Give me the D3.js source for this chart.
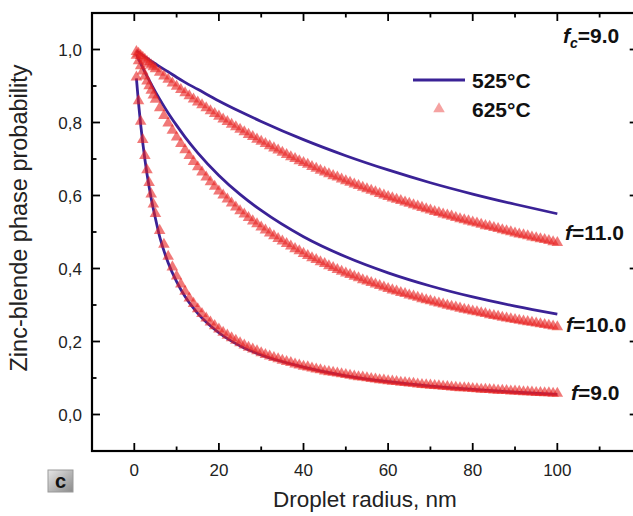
<!DOCTYPE html>
<html>
<head>
<meta charset="utf-8">
<script src="https://cdn.jsdelivr.net/npm/d3@7"></script>
<style>
  body { margin: 0; background: #fff; }
  svg { display: block; font-family: "Liberation Sans", Arial, sans-serif; }
  .tick-label { font-size: 17px; fill: #222; }
  .title { font-size: 22.5px; fill: #222; }
  .bold { font-weight: bold; fill: #111; }
</style>
</head>
<body>
<div class="container"></div>
<script>
// radius (nm) for the 525 °C curves
const radiusLine = [0.5, 1, 1.5, 2, 3, 4, 5, 6, 8, 10, 12, 15, 20, 25, 30, 40, 50, 60, 70, 80, 90, 100]
const p525_f9  = [0.921, 0.853, 0.795, 0.744, 0.659, 0.592, 0.537, 0.487, 0.416, 0.364, 0.323, 0.277, 0.224, 0.188, 0.163, 0.130, 0.106, 0.090, 0.078, 0.069, 0.061, 0.055]
const p525_f10 = [0.987, 0.974, 0.962, 0.950, 0.927, 0.905, 0.884, 0.864, 0.826, 0.792, 0.760, 0.717, 0.655, 0.603, 0.559, 0.487, 0.432, 0.388, 0.352, 0.322, 0.297, 0.275]
const p525_f11 = [0.996, 0.992, 0.988, 0.984, 0.976, 0.968, 0.961, 0.953, 0.939, 0.924, 0.910, 0.891, 0.859, 0.830, 0.803, 0.753, 0.709, 0.670, 0.635, 0.604, 0.576, 0.550]

// radius (nm) for the 625 °C markers
const radiusTri = [0.5, 1, 1.5, 2, 2.5, 3, 3.5, 4, 4.5, 5,
  6, 7, 8, 9, 10, 11, 12, 13, 14, 15, 16, 17, 18, 19, 20,
  21, 22, 23, 24, 25, 26, 27, 28, 29, 30, 31, 32, 33, 34, 35,
  36, 37, 38, 39, 40, 41, 42, 43, 44, 45, 46, 47, 48, 49, 50,
  51, 52, 53, 54, 55, 56, 57, 58, 59, 60, 61, 62, 63, 64, 65,
  66, 67, 68, 69, 70, 71, 72, 73, 74, 75, 76, 77, 78, 79, 80,
  81, 82, 83, 84, 85, 86, 87, 88, 89, 90, 91, 92, 93, 94, 95,
  96, 97, 98, 99, 100]
const p625_f9 = [0.924, 0.859, 0.803, 0.753, 0.709, 0.670, 0.635, 0.604, 0.576, 0.550,
  0.504, 0.466, 0.433, 0.404, 0.379, 0.357, 0.337, 0.319, 0.304, 0.289, 0.276, 0.264, 0.253, 0.243, 0.234,
  0.225, 0.217, 0.210, 0.203, 0.196, 0.190, 0.184, 0.179, 0.174, 0.169, 0.164, 0.160, 0.156, 0.152, 0.148,
  0.145, 0.142, 0.138, 0.135, 0.132, 0.130, 0.127, 0.124, 0.122, 0.119, 0.117, 0.115, 0.113, 0.111, 0.109,
  0.107, 0.105, 0.103, 0.102, 0.100, 0.098, 0.097, 0.095, 0.094, 0.092, 0.091, 0.090, 0.088, 0.087, 0.086,
  0.085, 0.083, 0.082, 0.081, 0.080, 0.079, 0.078, 0.077, 0.076, 0.075, 0.074, 0.073, 0.073, 0.072, 0.071,
  0.070, 0.069, 0.069, 0.068, 0.067, 0.066, 0.066, 0.065, 0.064, 0.064, 0.063, 0.062, 0.062, 0.061, 0.060,
  0.060, 0.059, 0.059, 0.058, 0.058]
const p625_f10 = [0.984, 0.969, 0.955, 0.941, 0.927, 0.913, 0.900, 0.888, 0.875, 0.863,
  0.840, 0.819, 0.798, 0.778, 0.760, 0.742, 0.725, 0.709, 0.693, 0.678, 0.664, 0.650, 0.637, 0.625, 0.612,
  0.601, 0.590, 0.579, 0.568, 0.558, 0.549, 0.539, 0.530, 0.522, 0.513, 0.505, 0.497, 0.489, 0.482, 0.475,
  0.468, 0.461, 0.454, 0.448, 0.441, 0.435, 0.429, 0.424, 0.418, 0.413, 0.407, 0.402, 0.397, 0.392, 0.387,
  0.383, 0.378, 0.374, 0.369, 0.365, 0.361, 0.357, 0.353, 0.349, 0.345, 0.341, 0.338, 0.334, 0.331, 0.327,
  0.324, 0.321, 0.317, 0.314, 0.311, 0.308, 0.305, 0.302, 0.299, 0.296, 0.294, 0.291, 0.288, 0.286, 0.283,
  0.281, 0.278, 0.276, 0.273, 0.271, 0.269, 0.266, 0.264, 0.262, 0.260, 0.258, 0.256, 0.254, 0.252, 0.250,
  0.248, 0.246, 0.244, 0.242, 0.240]
const p625_f11 = [0.994, 0.989, 0.983, 0.978, 0.973, 0.967, 0.962, 0.957, 0.952, 0.947,
  0.937, 0.927, 0.918, 0.908, 0.899, 0.890, 0.881, 0.873, 0.864, 0.856, 0.848, 0.840, 0.832, 0.824, 0.817,
  0.809, 0.802, 0.795, 0.788, 0.781, 0.774, 0.767, 0.761, 0.754, 0.748, 0.742, 0.736, 0.730, 0.724, 0.718,
  0.712, 0.706, 0.701, 0.695, 0.690, 0.685, 0.679, 0.674, 0.669, 0.664, 0.659, 0.654, 0.650, 0.645, 0.640,
  0.636, 0.631, 0.627, 0.622, 0.618, 0.614, 0.610, 0.605, 0.601, 0.597, 0.593, 0.589, 0.586, 0.582, 0.578,
  0.574, 0.571, 0.567, 0.563, 0.560, 0.556, 0.553, 0.549, 0.546, 0.543, 0.539, 0.536, 0.533, 0.530, 0.527,
  0.524, 0.521, 0.517, 0.515, 0.512, 0.509, 0.506, 0.503, 0.500, 0.497, 0.494, 0.492, 0.489, 0.486, 0.484,
  0.481, 0.479, 0.476, 0.473, 0.471]

const xTicks = [0, 20, 40, 60, 80, 100]
const yTicks = [0.0, 0.2, 0.4, 0.6, 0.8, 1.0]
const curveLabels = [
  { text: '11.0', x: 565, y: 240 },
  { text: '10.0', x: 566, y: 332 },
  { text: '9.0', x: 571, y: 400 }
]

const width = 633
const height = 516
const padLeft = 92
const padTop = 13
const padRight = 637.7
const padBottom = 451

const blue = '#3a2296'
const red = 'rgb(232, 34, 32)'

const svg = d3.select('.container').append('svg')
  .attr('width', width)
  .attr('height', height)

const defs = svg.append('defs')
defs.append('filter').attr('id', 'soft')
  .attr('x', '-20%').attr('y', '-20%').attr('width', '140%').attr('height', '140%')
  .append('feGaussianBlur').attr('stdDeviation', 0.7)

const xScale = d3.scaleLinear().domain([-10, 119]).range([padLeft, padRight])
const yScale = d3.scaleLinear().domain([-0.1, 1.1]).range([padBottom, padTop])

defs.append('clipPath').attr('id', 'plot-clip')
  .append('rect')
  .attr('x', padLeft).attr('y', padTop)
  .attr('width', padRight - padLeft).attr('height', padBottom - padTop)

const plot = svg.append('g').attr('clip-path', 'url(#plot-clip)')

// 525 °C lines
const line = d3.line()
  .x((d, i) => xScale(radiusLine[i]))
  .y(d => yScale(d))
  .curve(d3.curveMonotoneX)

plot.selectAll('path.line525')
  .data([p525_f9, p525_f10, p525_f11])
  .enter().append('path')
  .attr('class', 'line525')
  .attr('d', line)
  .attr('fill', 'none')
  .attr('stroke', blue)
  .attr('stroke-width', 2.8)

// 625 °C triangles
const tri = d3.symbol(d3.symbolTriangle, 58)
const triSeries = [p625_f9, p625_f10, p625_f11]
triSeries.forEach(series => {
  plot.append('g').attr('filter', 'url(#soft)')
    .selectAll('path')
    .data(series)
    .enter().append('path')
    .attr('d', tri)
    .attr('transform', (d, i) => `translate(${ xScale(radiusTri[i]) }, ${ yScale(d) })`)
    .attr('fill', red)
    .attr('fill-opacity', 0.6)
})

// axes (ticks inward, no labels on top/right)
const axesLayer = svg.append('g').attr('class', 'axes')
const xMajor = [0, 20, 40, 60, 80, 100]
const xMinor = [-10, 10, 30, 50, 70, 90, 110]
const yMajor = yTicks
const yMinor = [-0.1, 0.1, 0.3, 0.5, 0.7, 0.9, 1.1]

const drawX = (y, dir) => {
  const g = axesLayer.append('g')
  g.selectAll('line.major').data(xMajor).enter().append('line')
    .attr('x1', d => xScale(d)).attr('x2', d => xScale(d))
    .attr('y1', y).attr('y2', y + dir * 8)
  g.selectAll('line.minor').data(xMinor).enter().append('line')
    .attr('x1', d => xScale(d)).attr('x2', d => xScale(d))
    .attr('y1', y).attr('y2', y + dir * 4.5)
  g.selectAll('line').attr('stroke', '#000').attr('stroke-width', 1.8)
}
const drawY = (x, dir) => {
  const g = axesLayer.append('g')
  g.selectAll('line.major').data(yMajor).enter().append('line')
    .attr('y1', d => yScale(d)).attr('y2', d => yScale(d))
    .attr('x1', x).attr('x2', x + dir * 8)
  g.selectAll('line.minor').data(yMinor).enter().append('line')
    .attr('y1', d => yScale(d)).attr('y2', d => yScale(d))
    .attr('x1', x).attr('x2', x + dir * 4.5)
  g.selectAll('line').attr('stroke', '#000').attr('stroke-width', 1.8)
}
drawX(padBottom, -1)
drawX(padTop, 1)
drawY(padLeft, 1)
drawY(padRight, -1)

axesLayer.append('rect')
  .attr('x', padLeft).attr('y', padTop)
  .attr('width', padRight - padLeft).attr('height', padBottom - padTop)
  .attr('fill', 'none')
  .attr('stroke', '#000')
  .attr('stroke-width', 2.2)

const fmt = d => d3.format('.1f')(d).replace('.', ',')

axesLayer.selectAll('text.xl').data(xTicks).enter().append('text')
  .attr('class', 'tick-label')
  .attr('x', d => xScale(d))
  .attr('y', 476)
  .attr('text-anchor', 'middle')
  .text(d => d)

axesLayer.selectAll('text.yl').data(yTicks).enter().append('text')
  .attr('class', 'tick-label')
  .attr('x', 82)
  .attr('y', d => yScale(d) + 6)
  .attr('text-anchor', 'end')
  .text(fmt)

svg.append('text')
  .attr('class', 'title')
  .attr('x', (padLeft + padRight) / 2)
  .attr('y', 507)
  .attr('text-anchor', 'middle')
  .text('Droplet radius, nm')

svg.append('text')
  .attr('class', 'title')
  .attr('transform', `translate(27, 218) rotate(-90)`)
  .attr('text-anchor', 'middle')
  .style('font-size', '23.5px')
  .text('Zinc-blende phase probability')

// legend
const legend = svg.append('g')
legend.append('line')
  .attr('x1', 413).attr('x2', 465).attr('y1', 80).attr('y2', 80)
  .attr('stroke', blue).attr('stroke-width', 2.8)
legend.append('text').attr('class', 'bold').attr('x', 472).attr('y', 88)
  .style('font-size', '21px').text('525°C')
legend.append('path').attr('d', tri)
  .attr('transform', 'translate(439, 109)')
  .attr('fill', red).attr('fill-opacity', 0.42)
legend.append('text').attr('class', 'bold').attr('x', 472).attr('y', 117)
  .style('font-size', '21px').text('625°C')

// f_c label
const fc = svg.append('text').attr('class', 'bold').attr('x', 563).attr('y', 43)
  .style('font-size', '21px')
fc.append('tspan').style('font-style', 'italic').text('f')
fc.append('tspan').style('font-style', 'italic').style('font-size', '14px')
  .attr('dy', 5).text('c')
fc.append('tspan').attr('dy', -5).text('=9.0')

// curve labels
curveLabels.forEach(l => {
  const t = svg.append('text').attr('class', 'bold')
    .attr('x', l.x).attr('y', l.y).style('font-size', '21px')
  t.append('tspan').style('font-style', 'italic').text('f')
  t.append('tspan').text('=' + l.text)
})

// panel letter
const grad = defs.append('linearGradient').attr('id', 'cbox')
  .attr('x1', 0).attr('y1', 0).attr('x2', 1).attr('y2', 1)
grad.append('stop').attr('offset', '0%').attr('stop-color', '#e6e6e6')
grad.append('stop').attr('offset', '100%').attr('stop-color', '#8a8a8a')
svg.append('rect').attr('x', 48).attr('y', 470).attr('width', 25).attr('height', 22)
  .attr('fill', 'url(#cbox)').attr('stroke', '#9a9a9a').attr('stroke-width', 1)
svg.append('text').attr('class', 'bold').attr('x', 60.5).attr('y', 488)
  .attr('text-anchor', 'middle').style('font-size', '20px').text('c')
</script>
</body>
</html>
